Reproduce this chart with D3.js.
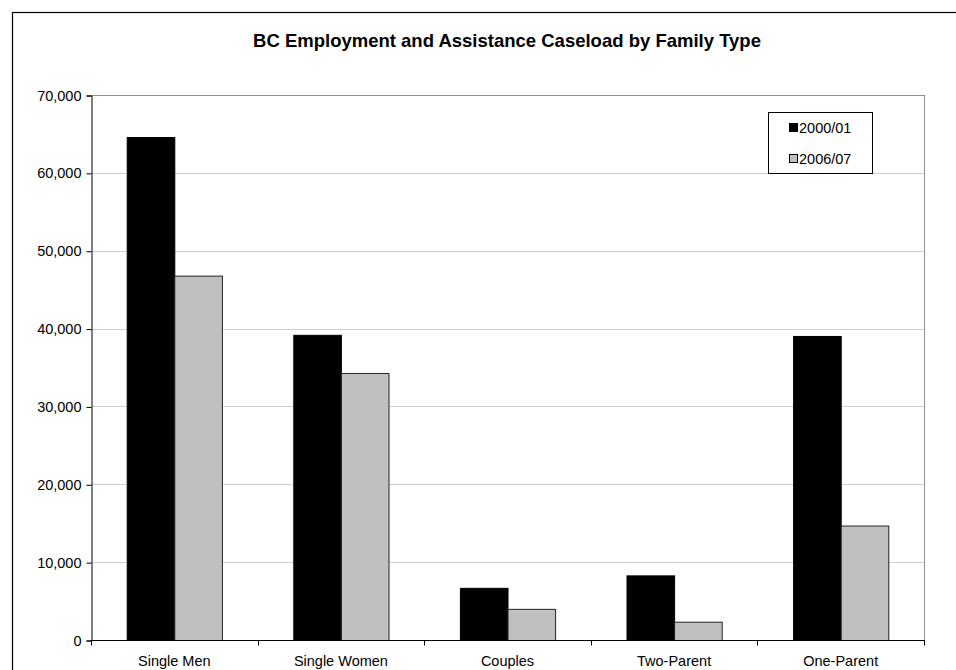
<!DOCTYPE html>
<html>
<head>
<meta charset="utf-8">
<script src="https://cdn.jsdelivr.net/npm/d3@7"></script>
<style>
  html, body { margin: 0; padding: 0; background: #fff; }
  svg { display: block; font-family: "Liberation Sans", Arial, sans-serif; }
</style>
</head>
<body>
<svg id="chart" width="956" height="670"></svg>
<script>
const categories = ["Single Men", "Single Women", "Couples", "Two-Parent", "One-Parent"];
const seriesNames = ["2000/01", "2006/07"];
const values2000 = [64600, 39200, 6700, 8300, 39050];
const values2006 = [46800, 34300, 4000, 2350, 14700];
const yTicks = [0, 10000, 20000, 30000, 40000, 50000, 60000, 70000];
const seriesColors = ["#000000", "#c0c0c0"];
const seriesStrokes = ["#000000", "#222222"];

const svg = d3.select("#chart");
const m = { left: 91, right: 924, top: 95, bottom: 640 };

// outer frame
svg.append("rect").attr("x", 12.5).attr("y", 12.5).attr("width", 1000).attr("height", 1000)
  .attr("fill", "#fff").attr("stroke", "#000").attr("stroke-width", 1.2);

// title
svg.append("text").attr("x", 507).attr("y", 47).attr("text-anchor", "middle")
  .attr("font-weight", "bold").attr("font-size", "18.5px").attr("fill", "#000")
  .text("BC Employment and Assistance Caseload by Family Type");

const x = d3.scaleBand().domain(categories).range([m.left, m.right]).padding(0);
const xs = d3.scaleBand().domain(seriesNames).range([0, x.step()]).paddingInner(0).paddingOuter(0.75);
const y = d3.scaleLinear().domain([0, 70000]).range([m.bottom, m.top]);

// gridlines
svg.append("g").selectAll("line").data(yTicks.filter(d => d > 0)).join("line")
  .attr("x1", m.left).attr("x2", m.right)
  .attr("y1", d => Math.round(y(d)) + 0.5).attr("y2", d => Math.round(y(d)) + 0.5)
  .attr("stroke", d => d === 70000 ? "#909090" : "#d0d0d0").attr("stroke-width", 1);

// right plot border
svg.append("line").attr("x1", m.right + 0.5).attr("x2", m.right + 0.5)
  .attr("y1", m.top).attr("y2", m.bottom).attr("stroke", "#909090");

// bars
const data = categories.map((c, i) => ({ c, vals: [values2000[i], values2006[i]] }));
const groups = svg.append("g").selectAll("g").data(data).join("g")
  .attr("transform", d => `translate(${x(d.c)},0)`);
groups.selectAll("rect").data(d => d.vals.map((v, j) => ({ v, s: seriesNames[j], j })))
  .join("rect")
  .attr("x", d => xs(d.s) + 0.5)
  .attr("y", d => y(d.v) + 0.5)
  .attr("width", xs.bandwidth())
  .attr("height", d => y(0) - y(d.v))
  .attr("fill", d => seriesColors[d.j])
  .attr("stroke", d => seriesStrokes[d.j]).attr("stroke-width", 1);

// y axis
const yAxis = d3.axisLeft(y).tickValues(yTicks).tickSize(5).tickPadding(5)
  .tickFormat(d3.format(","));
const gy = svg.append("g").attr("transform", `translate(${m.left + 0.5},0.5)`).call(yAxis);
gy.select(".domain").attr("stroke", "#000");
gy.selectAll("text").attr("font-size", "14.5px").attr("fill", "#000")
  .attr("font-family", "'Liberation Sans', Arial, sans-serif");

// x axis
const gx = svg.append("g").attr("transform", `translate(0,${m.bottom + 0.5})`);
gx.append("line").attr("x1", m.left).attr("x2", m.right + 1).attr("stroke", "#000");
const bounds = categories.map(c => x(c)).concat([m.right]);
gx.selectAll("line.tick").data(bounds).join("line").attr("class", "tick")
  .attr("x1", d => Math.round(d) + 0.5).attr("x2", d => Math.round(d) + 0.5)
  .attr("y1", 0).attr("y2", 5).attr("stroke", "#000");
gx.selectAll("text").data(categories).join("text")
  .attr("x", d => x(d) + x.bandwidth() / 2).attr("y", 25.5)
  .attr("text-anchor", "middle").attr("font-size", "14.5px").attr("fill", "#000")
  .text(d => d);

// legend
const lg = svg.append("g");
lg.append("rect").attr("x", 768.5).attr("y", 112.5).attr("width", 104).attr("height", 61)
  .attr("fill", "#fff").attr("stroke", "#000");
seriesNames.forEach((s, i) => {
  const cy = 128 + i * 31;
  lg.append("rect").attr("x", 789.5).attr("y", cy - 4.5).attr("width", 8).attr("height", 8)
    .attr("fill", seriesColors[i]).attr("stroke", "#000");
  lg.append("text").attr("x", 799).attr("y", cy + 5).attr("font-size", "14.5px")
    .attr("fill", "#000").text(s);
});
</script>
</body>
</html>
